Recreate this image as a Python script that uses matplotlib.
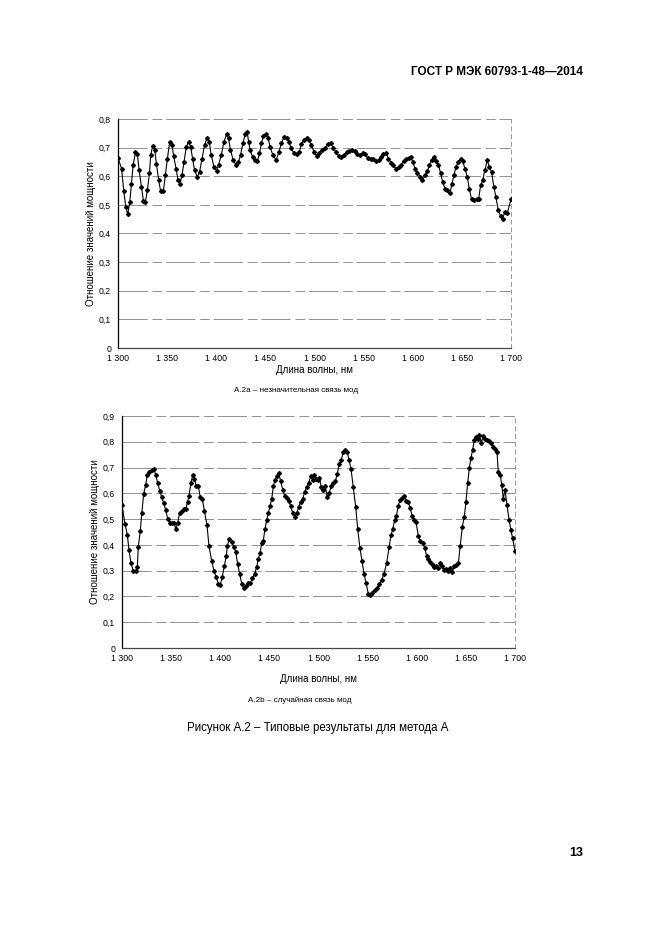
import numpy as np
import matplotlib
matplotlib.use("Agg")
import matplotlib.pyplot as plt

plt.rcParams['font.family'] = ['Liberation Sans', 'DejaVu Sans']

# ----------------------------------------------------------------------
# A.2a - weak mode coupling
# ----------------------------------------------------------------------
wl_a = [1300.0, 1303.6, 1305.9, 1307.9, 1309.9, 1312.0, 1313.7, 1315.4, 1317.8, 1319.8,
        1321.5, 1323.9, 1325.9, 1327.9, 1329.9, 1332.0, 1333.3, 1335.3, 1337.4, 1339.1,
        1341.4, 1343.4, 1346.2, 1348.2, 1350.3, 1352.6, 1355.0, 1356.6, 1359.1, 1361.1,
        1363.1, 1365.2, 1367.2, 1369.5, 1371.9, 1373.9, 1375.9, 1377.9, 1380.7, 1383.0,
        1385.5, 1388.1, 1390.6, 1392.9, 1394.9, 1397.7, 1400.3, 1402.3, 1405.1, 1407.8,
        1410.5, 1412.5, 1414.5, 1417.3, 1420.3, 1422.6, 1424.7, 1427.1, 1429.4, 1431.5,
        1433.0, 1434.5, 1436.9, 1439.3, 1441.9, 1444.0, 1446.0, 1448.0, 1450.8, 1452.8,
        1454.8,
        1457.6, 1460.9, 1463.6, 1466.3, 1469.0, 1471.8, 1474.1, 1476.4, 1479.2, 1481.9,
        1484.3, 1486.6, 1489.3, 1492.1, 1494.4, 1496.7, 1499.5, 1502.2, 1504.9, 1507.9,
        1510.9, 1513.7, 1516.4, 1519.1, 1521.8, 1524.6, 1527.2, 1529.9, 1532.7, 1535.3,
        1538.1, 1540.8, 1543.4, 1546.2, 1548.9, 1551.6, 1554.3, 1557.0, 1559.7, 1562.4,
        1565.2, 1567.8, 1570.2, 1572.9, 1575.3, 1577.7, 1580.4, 1583.0, 1585.5, 1587.8,
        1590.6, 1593.2, 1595.7, 1598.0, 1600.0, 1602.3, 1604.8, 1607.4, 1609.9, 1612.5,
        1614.9, 1617.0, 1619.3, 1621.6, 1623.7, 1626.1, 1628.4, 1630.5, 1632.8, 1635.2,
        1637.9, 1639.9, 1641.9, 1644.0, 1646.4, 1648.7, 1650.8, 1653.1, 1655.5, 1657.5,
        1659.9, 1662.2, 1665.0, 1667.0, 1669.1, 1671.1, 1673.4, 1675.8, 1677.9, 1680.2,
        1682.6, 1684.6, 1687.0, 1689.4, 1691.4, 1693.7, 1696.1, 1700.0]
ratio_a = [0.664, 0.627, 0.548, 0.493, 0.467, 0.510, 0.574, 0.639, 0.683, 0.676,
           0.621, 0.563, 0.513, 0.510, 0.551, 0.610, 0.674, 0.706, 0.691, 0.644,
           0.586, 0.548, 0.548, 0.604, 0.662, 0.720, 0.709, 0.671, 0.627, 0.586,
           0.574, 0.604, 0.650, 0.703, 0.720, 0.703, 0.662, 0.621, 0.598, 0.615,
           0.662, 0.709, 0.734, 0.720, 0.674, 0.633, 0.618, 0.639, 0.674, 0.720,
           0.746, 0.732, 0.691, 0.656, 0.639, 0.650, 0.674, 0.715, 0.746, 0.753,
           0.720, 0.691, 0.668, 0.656, 0.653, 0.680, 0.715, 0.741, 0.746, 0.732,
           0.703, 0.674, 0.656, 0.683, 0.715, 0.738, 0.734, 0.718, 0.697, 0.680,
           0.676, 0.683, 0.711, 0.726, 0.734, 0.726, 0.709, 0.685, 0.671, 0.680,
           0.691, 0.699, 0.711, 0.715, 0.699, 0.683, 0.671, 0.668, 0.674, 0.683,
           0.688, 0.691, 0.688, 0.676, 0.674, 0.680, 0.676, 0.664, 0.660, 0.662,
           0.653, 0.656, 0.666, 0.676, 0.680, 0.662, 0.648, 0.639, 0.625, 0.633,
           0.639, 0.653, 0.662, 0.664, 0.668, 0.650, 0.627, 0.613, 0.598, 0.586,
           0.604, 0.618, 0.639, 0.656, 0.668, 0.653, 0.641, 0.610, 0.580, 0.557,
           0.551, 0.540, 0.574, 0.604, 0.633, 0.650, 0.662, 0.653, 0.627, 0.598,
           0.557, 0.519, 0.516, 0.519, 0.519, 0.569, 0.586, 0.621, 0.656, 0.633,
           0.615, 0.563, 0.528, 0.481, 0.462, 0.450, 0.476, 0.470, 0.519]

# ----------------------------------------------------------------------
# A.2b - random mode coupling
# ----------------------------------------------------------------------
wl_b = [1300.0, 1303.1, 1305.4, 1307.1, 1309.2, 1311.5, 1313.9, 1315.6, 1316.6, 1318.6,
        1320.1, 1322.1, 1324.1, 1325.8, 1327.8, 1330.2, 1332.3, 1334.3, 1336.3, 1338.4,
        1340.4, 1342.4, 1344.5, 1346.5, 1348.9, 1351.2, 1352.9, 1354.7, 1356.7, 1358.7,
        1360.8, 1362.8, 1364.8, 1366.9, 1368.2, 1370.2, 1372.0, 1373.6, 1375.6, 1377.7,
        1379.7, 1381.7, 1383.8, 1386.5, 1388.5, 1391.3, 1393.6, 1395.7, 1398.0, 1400.0,
        1402.1, 1404.1, 1406.2, 1407.2, 1409.2, 1411.7, 1413.7, 1415.7, 1417.8, 1419.8,
        1421.8, 1423.9, 1425.9, 1427.9, 1430.3, 1432.8, 1435.1, 1437.1, 1438.7, 1440.5,
        1442.2, 1443.8, 1445.5, 1447.3, 1448.9, 1450.6, 1452.4, 1454.0, 1455.7, 1457.5,
        1459.5, 1461.5, 1463.6, 1465.6, 1467.6, 1469.7, 1471.7, 1473.7, 1475.8, 1477.8,
        1479.8, 1481.9, 1483.9, 1486.0, 1488.0, 1490.0, 1492.1, 1494.1, 1495.7, 1497.5,
        1499.2, 1500.8, 1502.9, 1504.9, 1506.9, 1509.0, 1511.0, 1513.0, 1515.1, 1517.1,
        1519.1, 1521.2, 1523.2, 1525.2, 1527.3, 1529.3, 1531.0, 1533.1, 1535.4, 1537.9,
        1539.9, 1542.2, 1544.3, 1546.3, 1548.3, 1550.7, 1552.4, 1554.8, 1557.2, 1559.2,
        1561.9, 1564.3, 1566.7, 1569.4, 1571.8, 1573.8, 1575.5, 1577.6, 1579.2, 1581.2,
        1583.0, 1585.0, 1587.3, 1589.4, 1591.4, 1593.1, 1595.5, 1597.5, 1599.2, 1601.6,
        1603.6, 1606.1, 1608.1, 1610.1, 1611.8, 1613.8, 1615.8, 1617.9, 1619.9, 1621.9,
        1624.0, 1626.0, 1628.0, 1630.1, 1632.1, 1634.1, 1636.2, 1638.2, 1640.3, 1642.3,
        1644.3, 1646.4, 1648.4, 1650.1, 1651.9, 1653.5, 1655.2, 1656.9, 1658.6, 1660.6,
        1662.0, 1663.7, 1665.7, 1667.7, 1669.5, 1671.5, 1673.5, 1675.6, 1677.6, 1679.6,
        1681.7, 1683.0, 1685.0, 1686.5, 1688.1, 1689.8, 1691.9, 1693.9, 1695.9, 1697.7,
        1700.0]
ratio_b = [0.553, 0.481, 0.440, 0.380, 0.328, 0.299, 0.299, 0.315, 0.393, 0.454,
           0.523, 0.598, 0.633, 0.671, 0.681, 0.689, 0.694, 0.672, 0.640, 0.610,
           0.585, 0.562, 0.536, 0.500, 0.486, 0.486, 0.484, 0.463, 0.486, 0.525,
           0.533, 0.539, 0.539, 0.568, 0.590, 0.642, 0.672, 0.657, 0.629, 0.627,
           0.585, 0.578, 0.533, 0.477, 0.396, 0.338, 0.299, 0.276, 0.250, 0.244,
           0.276, 0.318, 0.357, 0.396, 0.422, 0.412, 0.393, 0.373, 0.325, 0.286,
           0.250, 0.231, 0.240, 0.253, 0.252, 0.270, 0.289, 0.315, 0.344, 0.369,
           0.406, 0.416, 0.461, 0.497, 0.523, 0.551, 0.578, 0.627, 0.653, 0.666,
           0.679, 0.646, 0.614, 0.590, 0.581, 0.572, 0.551, 0.523, 0.507, 0.523,
           0.546, 0.568, 0.578, 0.607, 0.624, 0.642, 0.666, 0.650, 0.672, 0.655,
           0.653, 0.659, 0.624, 0.614, 0.627, 0.585, 0.603, 0.629, 0.642, 0.646,
           0.676, 0.715, 0.731, 0.759, 0.767, 0.759, 0.731, 0.694, 0.624, 0.546,
           0.461, 0.387, 0.338, 0.289, 0.253, 0.211, 0.205, 0.214, 0.224, 0.231,
           0.247, 0.263, 0.289, 0.330, 0.390, 0.438, 0.461, 0.497, 0.512, 0.551,
           0.575, 0.581, 0.588, 0.572, 0.568, 0.542, 0.512, 0.497, 0.490, 0.435,
           0.415, 0.408, 0.387, 0.357, 0.344, 0.334, 0.325, 0.315, 0.318, 0.312,
           0.331, 0.318, 0.302, 0.305, 0.299, 0.312, 0.295, 0.318, 0.321, 0.328,
           0.396, 0.471, 0.510, 0.568, 0.642, 0.698, 0.737, 0.770, 0.806, 0.819,
           0.811, 0.828, 0.796, 0.824, 0.811, 0.806, 0.802, 0.796, 0.780, 0.772,
           0.759, 0.681, 0.672, 0.633, 0.578, 0.614, 0.555, 0.497, 0.458, 0.425,
           0.376]

x_ticks = [1300, 1350, 1400, 1450, 1500, 1550, 1600, 1650, 1700]
x_tick_labels = ['1 300', '1 350', '1 400', '1 450', '1 500',
                 '1 550', '1 600', '1 650', '1 700']

Y_LABEL = 'Отношение значений мощности'
X_LABEL = 'Длина волны, нм'


def draw_panel(ax, wl, ratio, ymax, xlabelpad):
    """One scanned-looking Excel line chart"""
    yt = np.round(np.arange(0, ymax + 0.05, 0.1), 1)
    for v in yt[1:]:
        ax.axhline(v, color='#909090', lw=0.7, ls=(0, (30, 5, 10, 4)), zorder=1)
    ax.plot(wl, ratio, color='black', lw=0.8, marker='D', ms=2.0,
            mec='black', mfc='black', zorder=3)
    ax.set_xlim(1300, 1700)
    ax.set_ylim(0, ymax)
    ax.set_xticks(x_ticks)
    ax.set_xticklabels(x_tick_labels)
    ax.set_yticks(yt)
    ax.set_yticklabels(['0'] + [('%.1f' % v).replace('.', ',') for v in yt[1:]])
    ax.tick_params(length=0, labelsize=6.3, pad=5)
    ax.tick_params(axis='x', pad=4)
    ax.spines['top'].set_visible(False)
    ax.spines['right'].set_color('#999999')
    ax.spines['right'].set_linestyle((0, (4, 4)))
    ax.spines['right'].set_linewidth(0.7)
    ax.spines['left'].set_linewidth(0.9)
    ax.spines['bottom'].set_linewidth(0.9)
    ax.spines['bottom'].set_color('#444444')
    ax.set_ylabel(Y_LABEL, fontsize=7, labelpad=2)
    ax.set_xlabel(X_LABEL, fontsize=7, labelpad=xlabelpad)


fig = plt.figure(figsize=(6.61, 9.35), dpi=100)

ax1 = fig.add_axes([118 / 661, 1 - 348 / 935, 393 / 661, 229 / 935])
draw_panel(ax1, wl_a, ratio_a, 0.8, 2)

ax2 = fig.add_axes([122 / 661, 1 - 648 / 935, 393 / 661, 232 / 935])
draw_panel(ax2, wl_b, ratio_b, 0.9, 8)

fig.text(583 / 661, 1 - 72 / 935, 'ГОСТ Р МЭК 60793-1-48—2014', ha='right',
         va='center', fontsize=8.5, fontweight='bold')
fig.text(296 / 661, 1 - 390 / 935, 'А.2а – незначительная связь мод',
         ha='center', va='center', fontsize=5.8)
fig.text(300 / 661, 1 - 700 / 935, 'А.2b – случайная связь мод',
         ha='center', va='center', fontsize=5.8)
fig.text(318 / 661, 1 - 728 / 935, 'Рисунок А.2 – Типовые результаты для метода А',
         ha='center', va='center', fontsize=8.3)
fig.text(583 / 661, 1 - 853 / 935, '13', ha='right', va='center',
         fontsize=9, fontweight='bold')

fig.savefig('out.png', dpi=100)
